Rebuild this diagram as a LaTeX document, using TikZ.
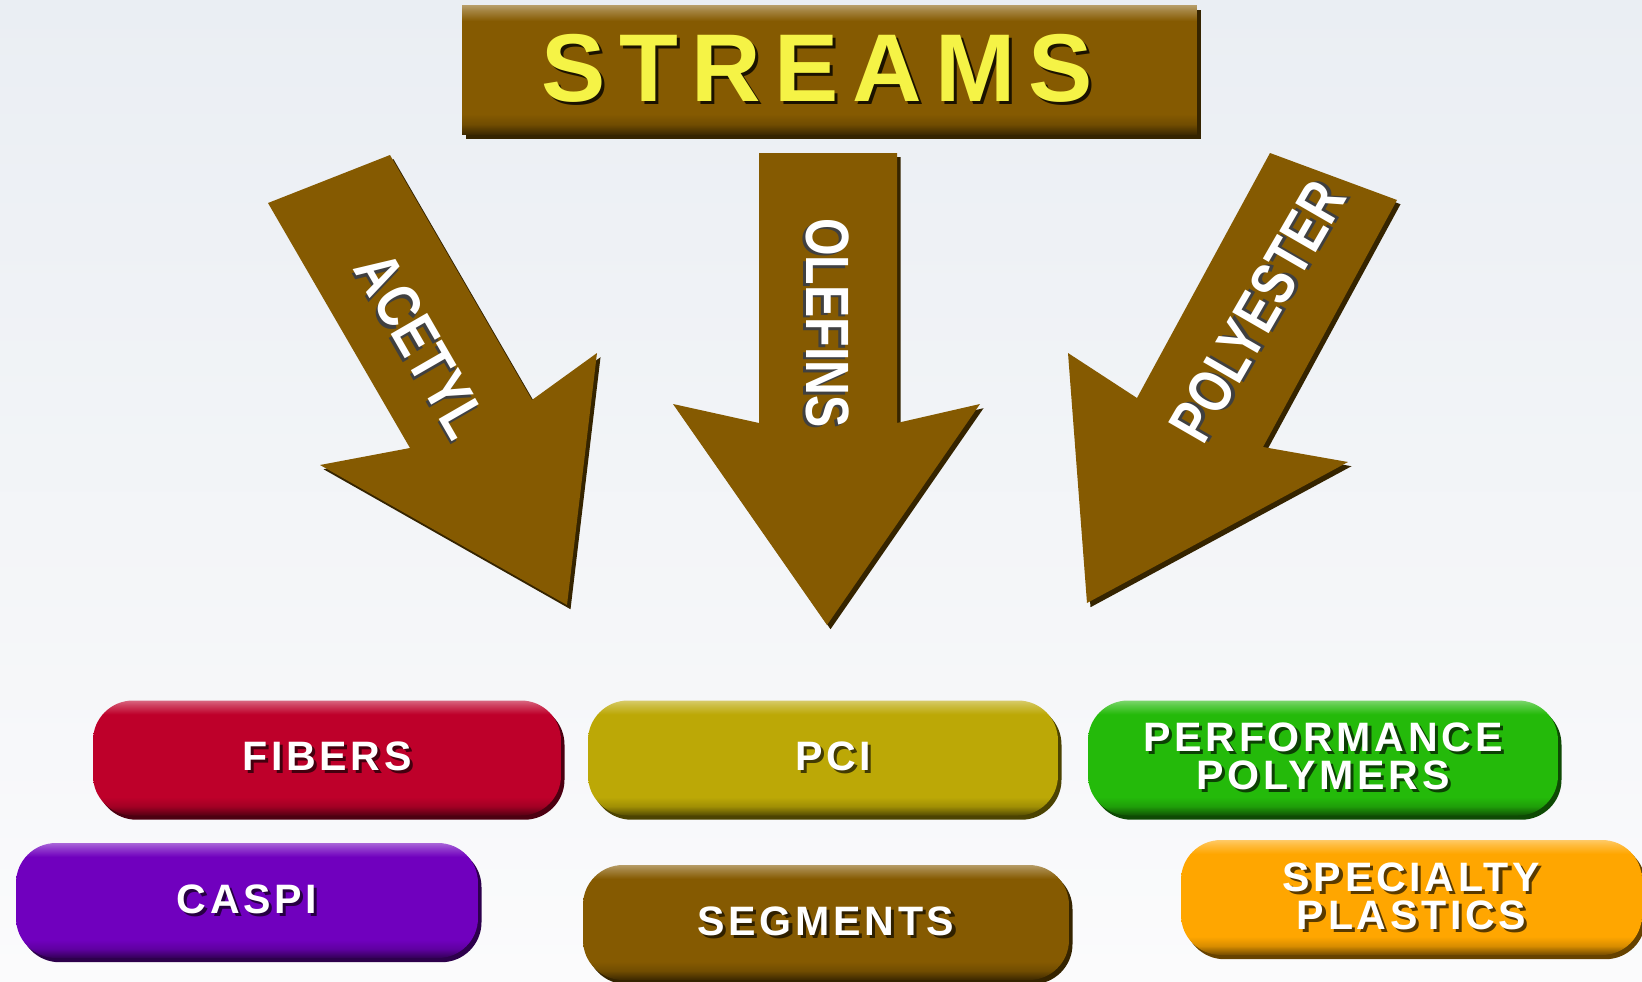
\documentclass[tikz,border=0pt]{standalone}
\usepackage{fontspec}
\setmainfont{Liberation Sans}
\newfontfamily\titlefont[LetterSpace=14]{Liberation Sans}
\newfontfamily\pillfont[LetterSpace=9]{Liberation Sans}
\usetikzlibrary{shadows}

\definecolor{bgtop}{RGB}{234,238,243}
\definecolor{bgbottom}{RGB}{251,251,252}
\definecolor{streambrown}{RGB}{133,90,1}
\definecolor{titleyellow}{RGB}{245,243,70}
\definecolor{fiberred}{RGB}{190,0,42}
\definecolor{pciolive}{RGB}{188,168,6}
\definecolor{perfgreen}{RGB}{36,186,10}
\definecolor{caspipurple}{RGB}{112,0,190}
\definecolor{plasticorange}{RGB}{255,166,0}
\colorlet{pillc}{streambrown}

% raised look: dark lower edge, light upper edge
\pgfdeclareverticalshading[pillc]{bevel}{100bp}{color(0bp)=(pillc!45!black); color(25bp)=(pillc!45!black);
  color(29bp)=(pillc!85!black); color(33bp)=(pillc); color(69bp)=(pillc); color(73bp)=(pillc!75!white);
  color(75bp)=(pillc!60!white); color(100bp)=(pillc!60!white)}

% text with a dark copy set just below and to the right of it
\newcommand\shtext[2]{%
  \leavevmode\rlap{\hspace{0.9pt}\raisebox{-0.9pt}{\textcolor{#1}{#2}}}#2}

\begin{document}
\begin{tikzpicture}[scale=0.1,
  every node/.style={inner sep=0pt},
  rim/.style={drop shadow={shadow xshift=1pt, shadow yshift=-1.2pt, fill=#1!40!black, opacity=1}},
  raised/.style={/utils/exec={\colorlet{pillc}{#1}}, shade, shading=bevel, rim=#1},
  titlebox/.style={raised=streambrown, minimum width=7.35cm, minimum height=1.29cm,
    text=titleyellow, font=\titlefont\bfseries\fontsize{27.4}{30}\selectfont},
  pill/.style={raised=#1, rounded corners=0.4cm, minimum height=1.15cm, text=white, align=center,
    font=\pillfont\bfseries\fontsize{11.7}{10.8}\selectfont},
  flow/.style={fill=streambrown, rim=streambrown},
  flowlabel/.style={text=white, font=\bfseries\fontsize{17.4}{17.4}\selectfont}]
\useasboundingbox (0,0) rectangle (164.2,-98.2);
\shade [top color=bgtop, bottom color=bgbottom] (0,0) rectangle (164.2,-98.2);

% the three streams
\fill [flow] (26.8,-20.3) -- (39.0,-15.5) -- (53.2,-40.0) -- (59.7,-35.3) -- (56.7,-60.5) -- (32.0,-46.5) -- (41.0,-44.8) -- cycle;
\fill [flow] (75.9,-15.3) -- (89.7,-15.3) -- (89.7,-42.3) -- (98.0,-40.4) -- (82.7,-62.5) -- (67.3,-40.4) -- (75.9,-42.3) -- cycle;
\fill [flow] (127.0,-15.3) -- (139.7,-20.0) -- (126.3,-44.7) -- (134.8,-46.2) -- (108.7,-60.3) -- (106.8,-35.3) -- (113.7,-39.8) -- cycle;
\node [flowlabel, rotate=-60] (acetyl) at (42.0,-34.6) {\scalebox{0.82}[1]{\shtext{black!75}{ACETYL}}};
\node [flowlabel, rotate=-90] (olefins) at (82.6,-32.3) {\scalebox{0.79}[1]{\shtext{black!75}{OLEFINS}}};
\node [flowlabel, rotate=60] (polyester) at (125.9,-31.2) {\scalebox{0.79}[1]{\shtext{black!75}{POLYESTER}}};

\node [titlebox] (streams) at (82.95,-7.0) {\shtext{black!80!streambrown}{STREAMS}\kern7pt};

% segments
\node [pill=fiberred, minimum width=4.68cm] (fibers) at (32.7,-75.8) {\shtext{fiberred!35!black}{FIBERS}};
\node [pill=pciolive, minimum width=4.70cm] (pci) at (82.3,-75.8) {\hspace{5.7pt}\shtext{pciolive!35!black}{PCI}};
\node [pill=perfgreen, minimum width=4.70cm] (perf) at (132.3,-75.8) {\shtext{perfgreen!35!black}{PERFORMANCE}\\\shtext{perfgreen!35!black}{POLYMERS}};
\node [pill=caspipurple, minimum width=4.62cm] (caspi) at (24.7,-90.05) {\shtext{caspipurple!35!black}{CASPI}};
\node [pill=streambrown, minimum width=4.86cm] (segments) at (82.6,-92.25) {\shtext{streambrown!35!black}{SEGMENTS}};
\node [pill=plasticorange, minimum width=4.61cm] (specialty) at (141.15,-89.75) {\shtext{plasticorange!35!black}{SPECIALTY}\\\shtext{plasticorange!35!black}{PLASTICS}};
\end{tikzpicture}
\end{document}
